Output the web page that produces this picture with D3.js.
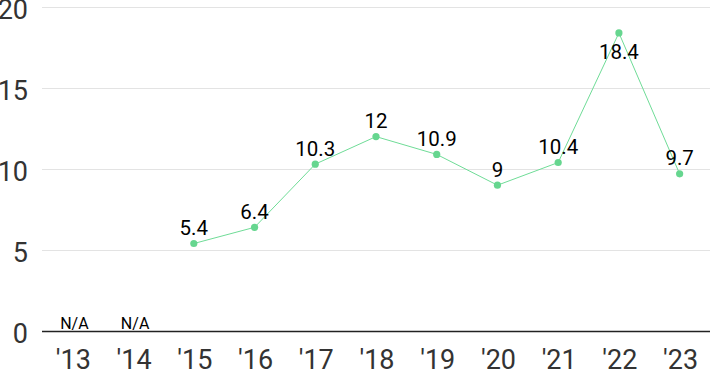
<!DOCTYPE html>
<html>
<head>
<style type="text/css">
body { margin: 0; background: #fff; }
.grid line { stroke: #e3e3e3; stroke-width: 1; }
.ylab, .xlab { font-family: Roboto, sans-serif; font-size: 27px; fill: #333; }
.val { font-family: Roboto, sans-serif; font-size: 20.5px; fill: #000; text-anchor: middle; }
.na { font-family: Roboto, sans-serif; font-size: 16px; fill: #000; text-anchor: middle; }
.pathline { stroke: #6fdc97; stroke-width: 1; fill: none; }
.dot { fill: #66d68f; }
</style>
<script src="https://d3js.org/d3.v7.min.js"></script>
</head>
<body>
<script type="text/javascript">
var width  = 710;
var height = 371;

var years  = ["'13", "'14", "'15", "'16", "'17", "'18", "'19", "'20", "'21", "'22", "'23"];
var values = [null, null, 5.4, 6.4, 10.3, 12, 10.9, 9, 10.4, 18.4, 9.7];
var yTicks = [0, 5, 10, 15, 20];

var svg = d3.select("body").append("svg").attr("width", width).attr("height", height);

var x = d3.scalePoint().domain(years).range([42, 710]).padding(0.5);
var y = d3.scaleLinear().domain([0, 20]).range([331, 7]);

// gridlines + y labels
var grid = svg.append("g").attr("class", "grid");
grid.selectAll("line").data(yTicks.filter(function(d){ return d > 0; })).enter().append("line")
	.attr("x1", 42).attr("x2", width)
	.attr("y1", function(d){ return y(d) + 0.5; })
	.attr("y2", function(d){ return y(d) + 0.5; });

svg.selectAll(".ylab").data(yTicks).enter().append("text")
	.attr("class", "ylab")
	.attr("x", 28)
	.attr("y", function(d){ return y(d) + 11.5; })
	.attr("text-anchor", "end")
	.text(function(d){ return d; });

// baseline axis
svg.append("line")
	.attr("x1", 42).attr("x2", width)
	.attr("y1", y(0) + 0.5).attr("y2", y(0) + 0.5)
	.attr("stroke", "#222").attr("stroke-width", 1.5);

// x labels
svg.selectAll(".xlab").data(years).enter().append("text")
	.attr("class", "xlab")
	.attr("x", function(d){ return x(d) + 1; })
	.attr("y", 369)
	.attr("text-anchor", "middle")
	.text(function(d){ return d; });

var data = years.map(function(d, i){ return { year: d, v: values[i] }; });
var present = data.filter(function(d){ return d.v !== null; });

var line = d3.line()
	.x(function(d){ return x(d.year); })
	.y(function(d){ return y(d.v); });
svg.append("path").datum(present).attr("class", "pathline").attr("d", line);

svg.selectAll(".dot").data(present).enter().append("circle")
	.attr("class", "dot")
	.attr("cx", function(d){ return x(d.year); })
	.attr("cy", function(d){ return y(d.v); })
	.attr("r", 3.6);

// value labels; the top one sits under its point
svg.selectAll(".val").data(present).enter().append("text")
	.attr("class", "val")
	.attr("x", function(d){ return x(d.year); })
	.attr("y", function(d){
		var py = y(d.v);
		return py < 40 ? py + 26 : py - 8.5;
	})
	.text(function(d){ return d.v; });

svg.selectAll(".na").data(data.filter(function(d){ return d.v === null; })).enter().append("text")
	.attr("class", "na")
	.attr("x", function(d){ return x(d.year) + 2; })
	.attr("y", 329)
	.text("N/A");
</script>
</body>
</html>
